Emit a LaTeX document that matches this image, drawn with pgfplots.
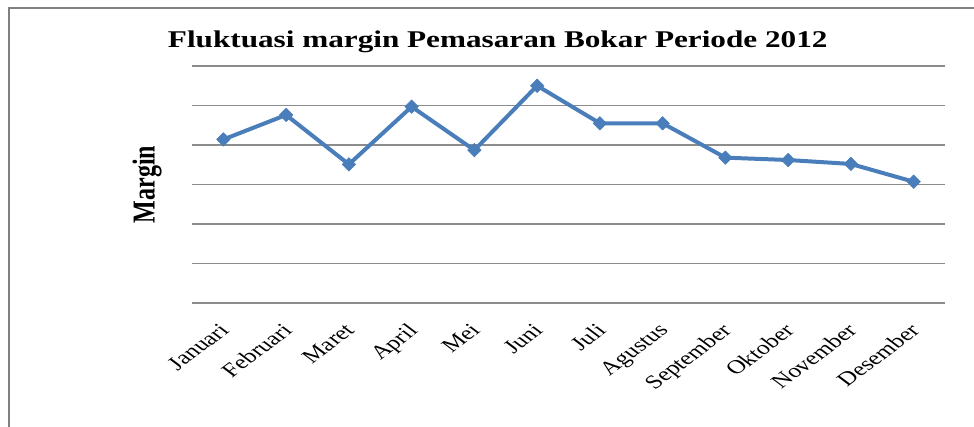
\documentclass[border=0pt]{standalone}
\usepackage{pgfplots}
\pgfplotsset{compat=1.18}
\usepackage{fontspec}
\setmainfont{Liberation Serif}
\definecolor{lineblue}{RGB}{74,126,187}
\definecolor{gridgray}{RGB}{140,140,140}
\definecolor{framegray}{RGB}{128,128,128}
\begin{document}
\begin{tikzpicture}
\useasboundingbox (0,0) rectangle (730.5pt,319.5pt);
\draw[framegray, line width=1.6pt] (6.75pt,-20pt) -- (6.75pt,313.5pt) -- (760pt,313.5pt);
\begin{axis}[
  at={(144pt,92.25pt)}, anchor=south west,
  scale only axis, width=564.75pt, height=177.75pt,
  xmin=-0.5, xmax=11.5, ymin=0, ymax=6,
  axis line style={draw=none},
  ytick={0,1,2,3,4,5,6}, yticklabels={},
  ymajorgrids, grid style={gridgray, line width=0.8pt},
  xtick={0,...,11},
  xticklabels={Januari,Februari,Maret,April,Mei,Juni,Juli,Agustus,September,Oktober,November,Desember},
  major tick length=0pt,
  xticklabel style={font=\fontsize{14.5}{17}\selectfont, xshift=-4pt, yshift=-13pt, xscale=1.33, rotate=45, anchor=north east, inner sep=1pt},
  title={\fontsize{18}{22}\selectfont\bfseries Fluktuasi margin Pemasaran Bokar Periode 2012},
  title style={at={(axis description cs:0.406,1.043)}, anchor=base, xscale=1.3},
  ylabel={\fontsize{18}{22}\selectfont\bfseries Margin},
  ylabel style={at={(axis description cs:-0.0598,0.5)}, anchor=center, yscale=1.33},
  clip=false,
]
\addplot[lineblue, line width=3pt, mark=diamond*, mark size=5pt, mark options={xscale=1.33, fill=lineblue, draw=lineblue, line width=0.5pt}]
coordinates {
(0,4.14) (1,4.76) (2,3.51) (3,4.97) (4,3.87) (5,5.50)
(6,4.55) (7,4.55) (8,3.68) (9,3.62) (10,3.52) (11,3.07)
};
\end{axis}
\end{tikzpicture}
\end{document}
